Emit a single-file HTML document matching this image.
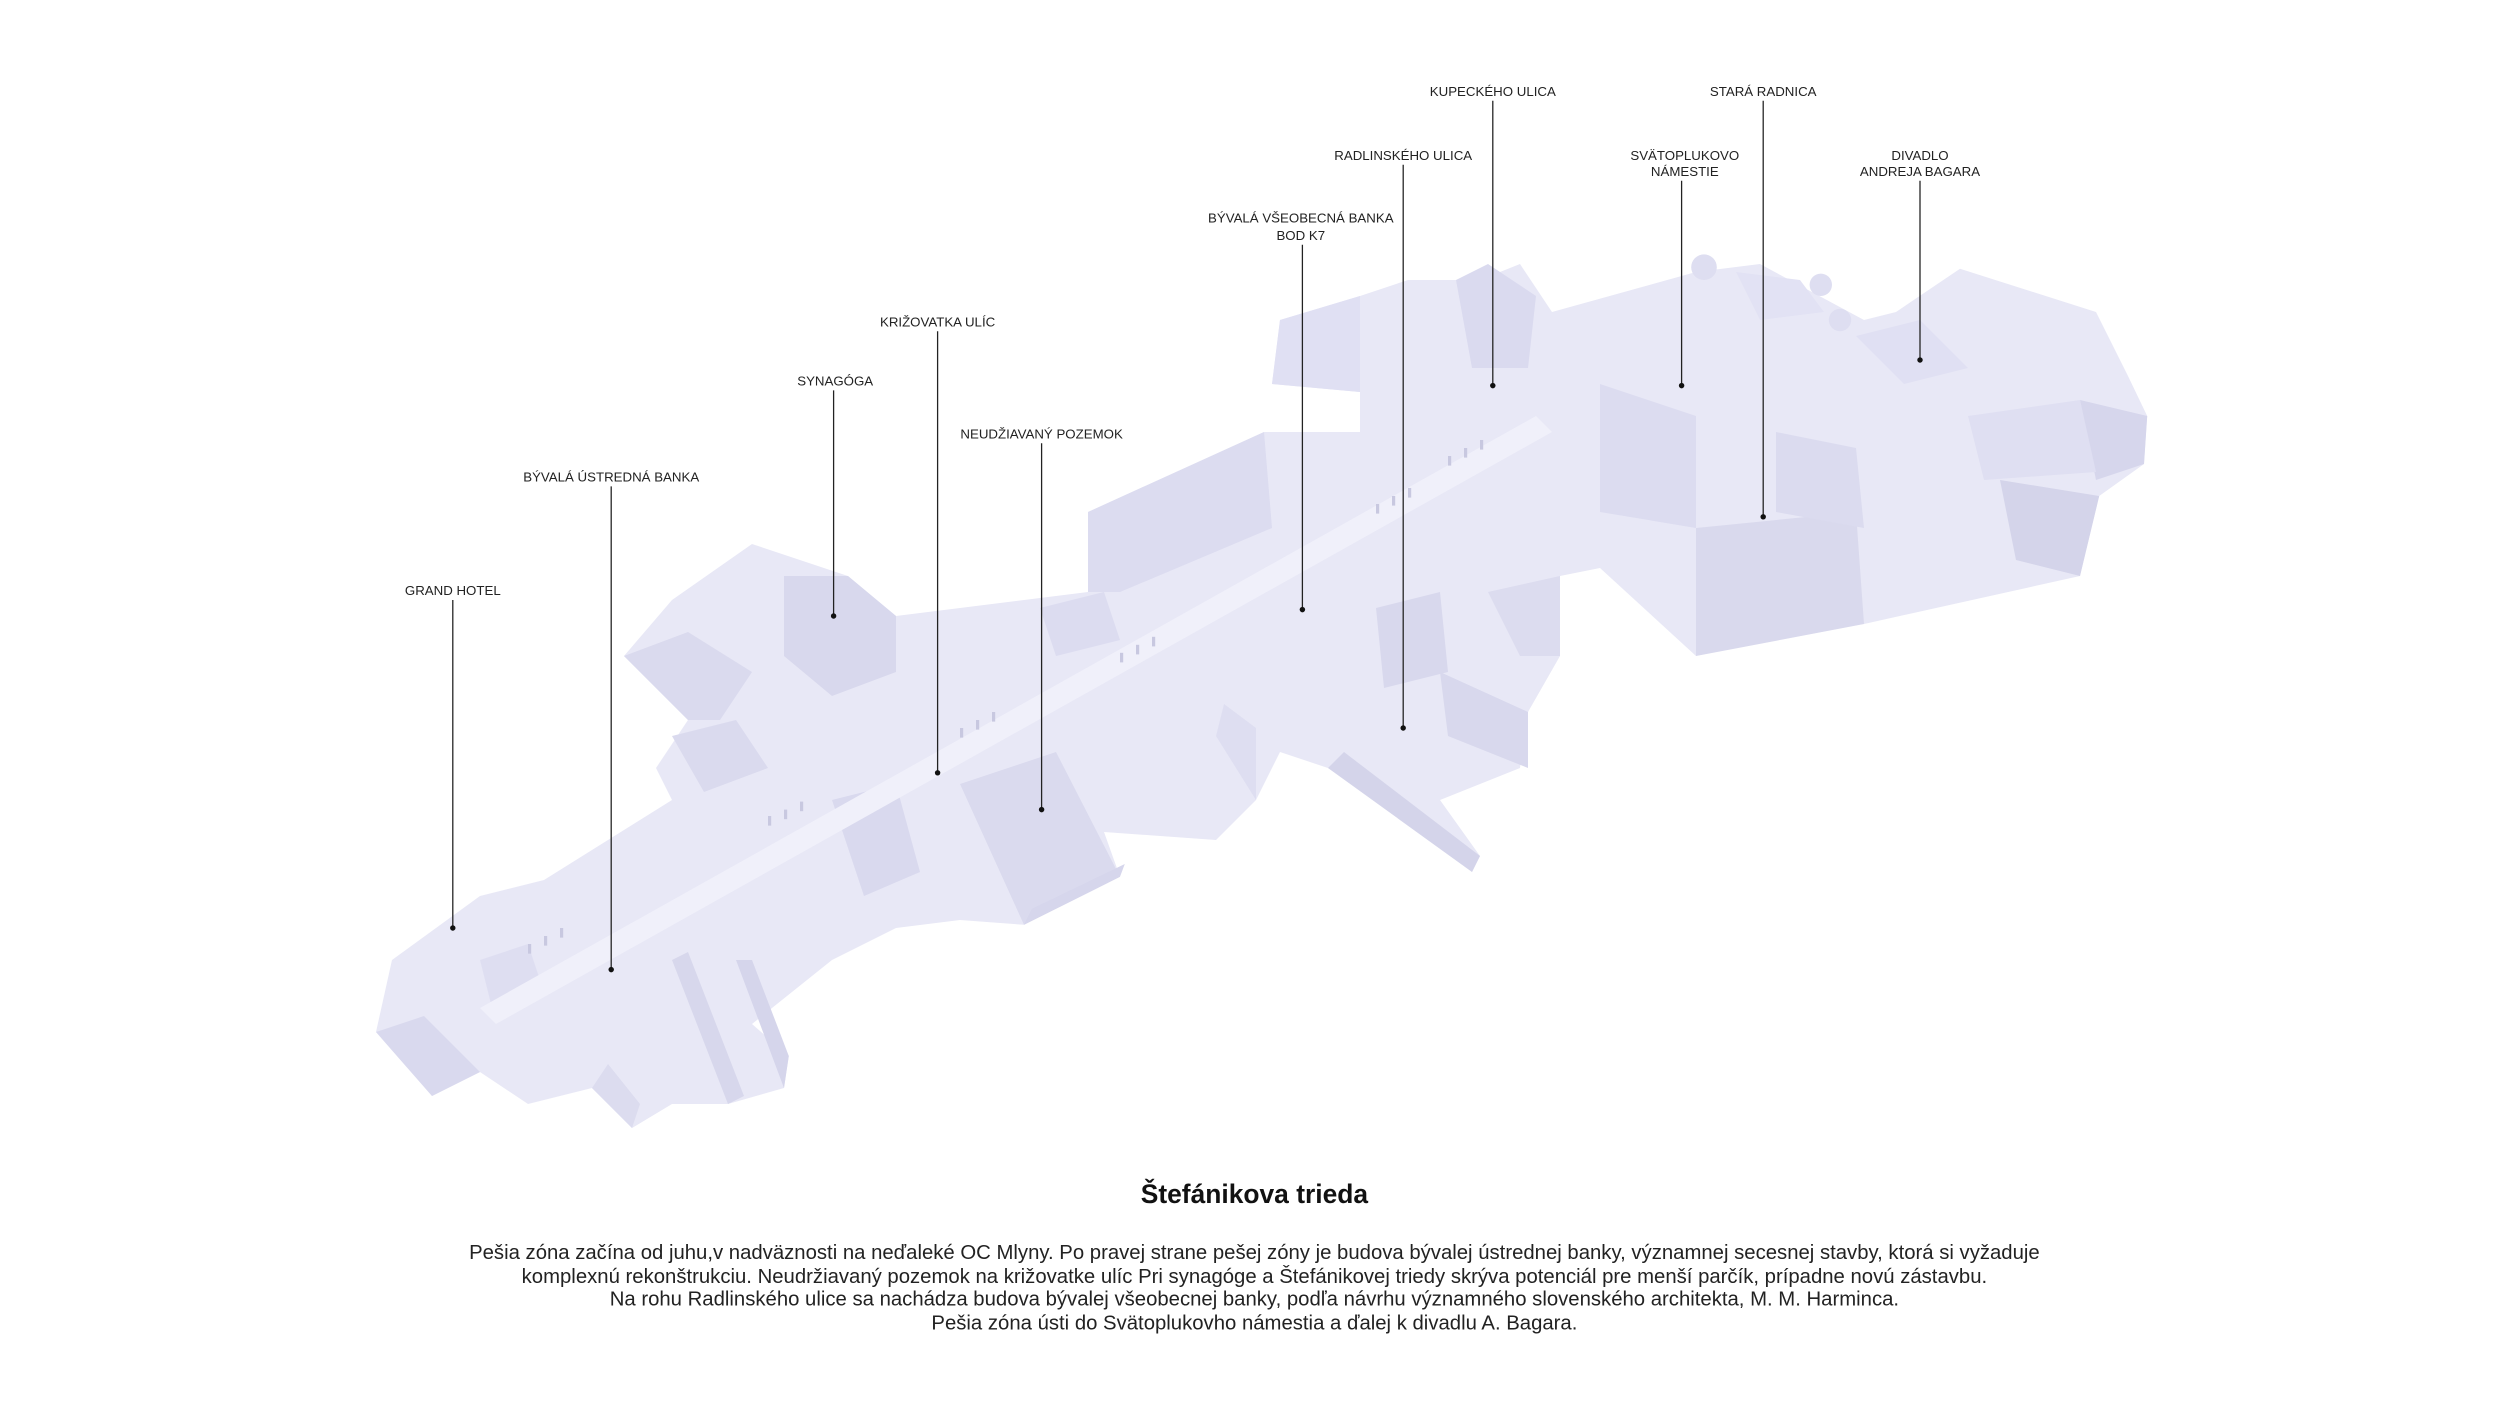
<!DOCTYPE html>
<html><head><meta charset="utf-8"><style>
html,body{margin:0;padding:0;background:#fff;}
svg{display:block;}
</style></head><body>
<svg width="2500" height="1406" viewBox="0 0 1562.5 878.75" xmlns="http://www.w3.org/2000/svg" font-family="Liberation Sans, sans-serif">
<rect width="1562.5" height="878.75" fill="#fff"/>
<g stroke="none">
<polygon fill="#e8e8f6" points="235,645 270,685 300,670 330,690 370,680 395,705 420,690 455,690 490,680 493,660 470,640 520,600 560,580 600,575 640,578 700,548 690,520 760,525 785,500 800,470 830,480 875,500 920,545 925,535 900,500 950,480 955,445 975,410 975,360 1000,355 1060,410 1100,395 1165,390 1300,360 1312,310 1340,290 1342,260 1330,235 1310,195 1225,168 1185,195 1165,200 1100,165 1060,170 970,195 960,180 950,165 925,175 910,175 880,175 850,185 800,200 795,240 850,245 850,270 790,270 680,320 680,370 560,385 530,360 470,340 420,375 390,410 430,450 410,480 420,500 340,550 300,560 245,600"/>
<polygon fill="#d9d9ee" points="235,645 270,685 300,670 265,635"/>
<polygon fill="#dcdcef" points="370,680 395,705 400,690 380,665"/>
<polygon fill="#d7d7ec" points="420,600 455,690 465,685 430,595"/>
<polygon fill="#d5d5eb" points="460,600 490,680 493,660 470,600"/>
<polygon fill="#dadaee" points="600,490 640,578 700,548 660,470"/>
<polygon fill="#d6d6ec" points="640,578 700,548 703,540 645,568"/>
<polygon fill="#dedef1" points="760,460 785,500 785,455 765,440"/>
<polygon fill="#d4d4ea" points="830,480 920,545 925,535 840,470"/>
<polygon fill="#d8d8ed" points="900,420 955,445 955,480 905,460"/>
<polygon fill="#dcdcef" points="930,370 975,360 975,410 950,410"/>
<polygon fill="#d9d9ed" points="1060,330 1160,320 1165,390 1060,410"/>
<polygon fill="#d4d4ea" points="1250,300 1312,310 1300,360 1260,350"/>
<polygon fill="#d6d6ec" points="1300,250 1342,260 1340,290 1310,300"/>
<polygon fill="#dfdff2" points="1230,260 1300,250 1310,295 1240,300"/>
<polygon fill="#dcdcf0" points="680,320 790,270 795,330 700,370 680,370"/>
<polygon fill="#d8d8ed" points="490,360 530,360 560,385 560,420 520,435 490,410"/>
<polygon fill="#dadaee" points="390,410 430,395 470,420 450,450 430,450"/>
<polygon fill="#e0e0f3" points="800,200 850,185 850,245 795,240"/>
<polygon fill="#dadaef" points="910,175 930,165 960,185 955,230 920,230"/>
<polygon fill="#dcdcf0" points="1000,240 1060,260 1060,330 1000,320"/>
<polygon fill="#dedef1" points="300,600 330,590 340,620 310,640"/>
<polygon fill="#d9d9ee" points="520,500 560,490 575,545 540,560"/>
<polygon fill="#dbdbef" points="1110,270 1160,280 1165,330 1110,320"/>
<polygon fill="#e0e0f3" points="1160,210 1200,200 1230,230 1190,240"/>
<polygon fill="#dadaee" points="420,460 460,450 480,480 440,495"/>
<polygon fill="#dcdcf0" points="650,380 690,370 700,400 660,410"/>
<polygon fill="#d8d8ed" points="860,380 900,370 905,420 865,430"/>
<polygon fill="#e2e2f4" points="1085,170 1125,175 1140,195 1100,200"/>
<circle cx="1065" cy="167" r="8" fill="#dedef1"/><circle cx="1138" cy="178" r="7" fill="#dedef1"/><circle cx="1150" cy="200" r="7" fill="#dedef1"/>
<polygon fill="#f0f0fa" points="300,630 960,260 970,270 310,640"/>
<g fill="#c8c8e0">
<rect x="480" y="510" width="2" height="6"/><rect x="490" y="506" width="2" height="6"/><rect x="500" y="501" width="2" height="6"/>
<rect x="600" y="455" width="2" height="6"/><rect x="610" y="450" width="2" height="6"/><rect x="620" y="445" width="2" height="6"/>
<rect x="700" y="408" width="2" height="6"/><rect x="710" y="403" width="2" height="6"/><rect x="720" y="398" width="2" height="6"/>
<rect x="860" y="315" width="2" height="6"/><rect x="870" y="310" width="2" height="6"/><rect x="880" y="305" width="2" height="6"/>
<rect x="905" y="285" width="2" height="6"/><rect x="915" y="280" width="2" height="6"/><rect x="925" y="275" width="2" height="6"/>
<rect x="330" y="590" width="2" height="6"/><rect x="340" y="585" width="2" height="6"/><rect x="350" y="580" width="2" height="6"/>
</g>
</g>
<g stroke="#222" stroke-width="0.8">
<line x1="933" y1="63" x2="933" y2="241"/>
<line x1="1102" y1="63" x2="1102" y2="323"/>
<line x1="877" y1="103" x2="877" y2="455"/>
<line x1="1051" y1="113" x2="1051" y2="241"/>
<line x1="1200" y1="113" x2="1200" y2="225"/>
<line x1="814" y1="153" x2="814" y2="381"/>
<line x1="586" y1="207" x2="586" y2="483"/>
<line x1="521" y1="244" x2="521" y2="385"/>
<line x1="651" y1="277" x2="651" y2="506"/>
<line x1="382" y1="304" x2="382" y2="606"/>
<line x1="283" y1="375" x2="283" y2="580"/>
</g>
<g fill="#111">
<circle cx="933" cy="241" r="1.7"/><circle cx="1102" cy="323" r="1.7"/><circle cx="877" cy="455" r="1.7"/>
<circle cx="1051" cy="241" r="1.7"/><circle cx="1200" cy="225" r="1.7"/><circle cx="814" cy="381" r="1.7"/>
<circle cx="586" cy="483" r="1.7"/><circle cx="521" cy="385" r="1.7"/><circle cx="651" cy="506" r="1.7"/>
<circle cx="382" cy="606" r="1.7"/><circle cx="283" cy="580" r="1.7"/>
</g>
<g font-size="8.3" fill="#222" text-anchor="middle">
<text x="933" y="60">KUPECKÉHO ULICA</text>
<text x="1102" y="60">STARÁ RADNICA</text>
<text x="877" y="100">RADLINSKÉHO ULICA</text>
<text x="1053" y="100">SVÄTOPLUKOVO</text><text x="1053" y="110">NÁMESTIE</text>
<text x="1200" y="100">DIVADLO</text><text x="1200" y="110">ANDREJA BAGARA</text>
<text x="813" y="139">BÝVALÁ VŠEOBECNÁ BANKA</text><text x="813" y="150">BOD K7</text>
<text x="586" y="204">KRIŽOVATKA ULÍC</text>
<text x="522" y="241">SYNAGÓGA</text>
<text x="651" y="274">NEUDŽIAVANÝ POZEMOK</text>
<text x="382" y="301">BÝVALÁ ÚSTREDNÁ BANKA</text>
<text x="283" y="372">GRAND HOTEL</text>
</g>
<text x="784" y="752" font-size="16.5" font-weight="bold" text-anchor="middle" fill="#111">Štefánikova trieda</text>
<g font-size="12.7" fill="#222" text-anchor="middle">
<text x="784" y="787">Pešia zóna začína od juhu,v nadväznosti na neďaleké OC Mlyny. Po pravej strane pešej zóny je budova bývalej ústrednej banky, významnej secesnej stavby, ktorá si vyžaduje</text>
<text x="784" y="802">komplexnú rekonštrukciu. Neudržiavaný pozemok na križovatke ulíc Pri synagóge a Štefánikovej triedy skrýva potenciál pre menší parčík, prípadne novú zástavbu.</text>
<text x="784" y="816">Na rohu Radlinského ulice sa nachádza budova bývalej všeobecnej banky, podľa návrhu významného slovenského architekta, M. M. Harminca.</text>
<text x="784" y="831">Pešia zóna ústi do Svätoplukovho námestia a ďalej k divadlu A. Bagara.</text>
</g>
</svg>
</body></html>
